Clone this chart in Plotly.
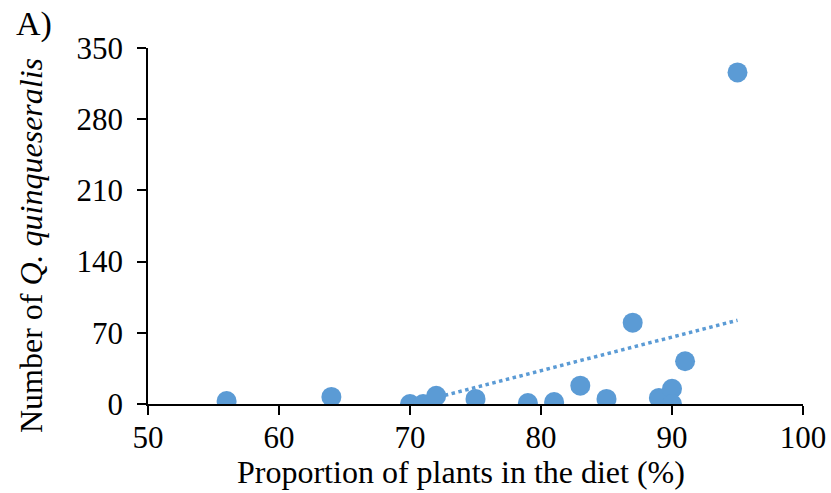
import numpy as np
import plotly.graph_objects as go

# Data
plants_pct = [56, 64, 70, 71, 72, 75, 79, 81, 83, 85, 87, 89, 90, 90, 91, 95]
n_quinq = [3, 7, 0, 0, 8, 5, 1, 2, 18, 5, 80, 6, 15, 0, 42, 326]
x_ticks = [50, 60, 70, 80, 90, 100]
y_ticks = [0, 70, 140, 210, 280, 350]

BLUE = "#5B9BD5"
FONT = "Liberation Serif"

# Linear trendline (clipped at the y-axis minimum, like Excel)
slope, intercept = np.polyfit(plants_pct, n_quinq, 1)
x0 = max(min(plants_pct), -intercept / slope)
x1 = max(plants_pct)
tx = np.linspace(x0, x1, 50)
ty = slope * tx + intercept

fig = go.Figure()
fig.add_trace(go.Scatter(x=tx, y=ty, mode="lines",
                         line=dict(color=BLUE, width=3.5, dash="dot"),
                         hoverinfo="skip", showlegend=False))
fig.add_trace(go.Scatter(x=plants_pct, y=n_quinq, mode="markers",
                         marker=dict(color=BLUE, size=20, line=dict(width=0)),
                         showlegend=False))

axis_common = dict(showgrid=False, zeroline=False, showline=True, automargin=False,
                   linecolor="black", linewidth=1.5, ticks="outside",
                   tickcolor="black", tickwidth=1.5, ticklen=9,
                   tickfont=dict(family=FONT, size=31, color="black"))

fig.update_layout(
    width=831, height=493,
    margin=dict(l=148, r=28, t=48, b=89),
    paper_bgcolor="white", plot_bgcolor="white",
    xaxis=dict(range=[50, 100], tickvals=x_ticks, ticklabelstandoff=-4, **axis_common),
    yaxis=dict(range=[0, 350], tickvals=y_ticks, ticklabelstandoff=8, **axis_common),
    annotations=[
        dict(text="Proportion of plants in the diet (%)", xref="paper", yref="paper",
             x=(461 - 148) / (803 - 148), y=-(472 - 404) / 356, xanchor="center", yanchor="middle",
             showarrow=False, font=dict(family=FONT, size=32, color="black")),
        dict(text="Number of <i>Q. quinqueseralis</i>", xref="paper", yref="paper",
             x=-(148 - 31) / 655, y=(404 - 246) / 356, xanchor="center", yanchor="middle",
             textangle=-90, showarrow=False,
             font=dict(family=FONT, size=32, color="black")),
        dict(text="A)", xref="paper", yref="paper",
             x=-(148 - 14) / 655, y=(404 - 24) / 356, xanchor="left", yanchor="middle",
             showarrow=False, font=dict(family=FONT, size=34, color="black")),
    ],
)

fig.write_html("out.html")
